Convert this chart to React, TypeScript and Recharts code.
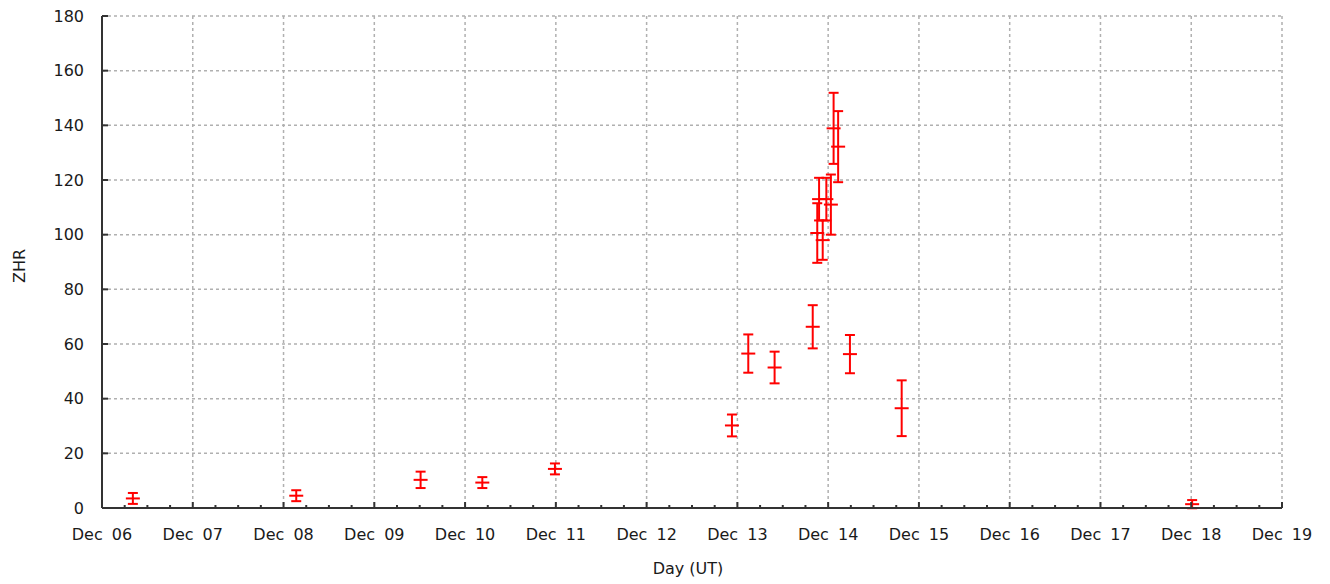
import React from "react";
import {
  ScatterChart,
  Scatter,
  XAxis,
  YAxis,
  CartesianGrid,
  ErrorBar,
} from "recharts";

// observation time as day of December (UT), ZHR and its error
const obsDay = [6.34, 8.14, 9.51, 10.19, 10.99, 12.94, 13.12, 13.41, 13.83, 13.88, 13.9, 13.94, 13.98, 14.03, 14.06, 14.11, 14.24, 14.81, 18.01];
const obsZhr = [3.5, 4.5, 10.3, 9.3, 14.3, 30.2, 56.5, 51.4, 66.3, 100.6, 113, 98, 113, 111, 138.9, 132.2, 56.3, 36.5, 1.4];
const obsErr = [2, 2, 3, 2, 2, 4, 7, 5.8, 7.9, 10.9, 7.8, 7.2, 7.8, 11, 13, 13, 7, 10.2, 1.5];

const dayTicks = [6, 7, 8, 9, 10, 11, 12, 13, 14, 15, 16, 17, 18, 19];
const dayLabels = ["Dec 06", "Dec 07", "Dec 08", "Dec 09", "Dec 10", "Dec 11", "Dec 12", "Dec 13", "Dec 14", "Dec 15", "Dec 16", "Dec 17", "Dec 18", "Dec 19"];
const zhrTicks = [0, 20, 40, 60, 80, 100, 120, 140, 160, 180];

const data = obsDay.map((d, i) => ({ day: d, zhr: obsZhr[i], err: obsErr[i] }));

// quarter-day minor ticks between the labelled days
const minorTicks: number[] = [];
dayTicks.slice(0, -1).forEach((d) => {
  [0, 0.25, 0.5, 0.75].forEach((q) => minorTicks.push(d + q));
});
minorTicks.push(19);

const FONT = "'DejaVu Sans', Verdana, sans-serif";
const INK = "#1a1a1a";
const FRAME = "#333";
const RED = "#ff0000";

const isMajor = (v: number) => Math.abs(v - Math.round(v)) < 1e-6;

const BottomTick = (props: any) => {
  const { x, y, payload } = props;
  const major = isMajor(payload.value);
  const idx = dayTicks.indexOf(Math.round(payload.value));
  return (
    <g>
      <line x1={x} x2={x} y1={y} y2={y - (major ? 6 : 3)} stroke={FRAME} strokeWidth={2} />
      {major && (
        <text x={x} y={y + 32} textAnchor="middle" fontFamily={FONT} fontSize={16} wordSpacing={4} fill={INK}>
          {dayLabels[idx]}
        </text>
      )}
    </g>
  );
};

const TopTick = (props: any) => {
  const { x, y, payload } = props;
  const major = isMajor(payload.value);
  return <line x1={x} x2={x} y1={y} y2={y + (major ? 6 : 3)} stroke={FRAME} strokeWidth={2} />;
};

const LeftTick = (props: any) => {
  const { x, y, payload } = props;
  return (
    <g>
      <line x1={x} x2={x + 6} y1={y} y2={y} stroke={FRAME} strokeWidth={2} />
      <text x={x - 18} y={y} dy="0.36em" textAnchor="end" fontFamily={FONT} fontSize={16} fill={INK}>
        {payload.value}
      </text>
    </g>
  );
};

const RightTick = (props: any) => {
  const { x, y } = props;
  return <line x1={x} x2={x - 6} y1={y} y2={y} stroke={FRAME} strokeWidth={2} />;
};

const Cross = (props: any) => {
  const { cx, cy } = props;
  if (cx == null || cy == null) return null;
  return <line x1={cx - 7} x2={cx + 7} y1={cy} y2={cy} stroke={RED} strokeWidth={2} />;
};

export default function App() {
  return (
    <div style={{ width: 1330, height: 584, background: "#fff" }}>
      <style>{"body{margin:0;background:#fff}"}</style>
      <ScatterChart
        width={1330}
        height={584}
        margin={{ top: 16, right: 48, bottom: 0, left: 0 }}
      >
        <CartesianGrid
          stroke="#b0b0b0"
          strokeWidth={1.5}
          strokeDasharray="3 3"
          horizontalValues={zhrTicks}
          verticalValues={dayTicks}
        />
        <XAxis
          dataKey="day"
          type="number"
          domain={[6, 19]}
          ticks={minorTicks}
          interval={0}
          allowDataOverflow
          height={76}
          tickSize={0}
          tickMargin={0}
          tickLine={false}
          tick={BottomTick}
          axisLine={{ stroke: FRAME, strokeWidth: 2 }}
          label={({ viewBox }: any) => (
            <text
              x={viewBox.x + viewBox.width / 2 - 4}
              y={viewBox.y + 66}
              textAnchor="middle"
              fontFamily={FONT}
              fontSize={16}
              fill={INK}
            >
              Day (UT)
            </text>
          )}
        />
        <XAxis
          xAxisId="top"
          orientation="top"
          type="number"
          domain={[6, 19]}
          ticks={minorTicks}
          interval={0}
          allowDataOverflow
          height={0}
          tickSize={0}
          tickMargin={0}
          tickLine={false}
          tick={TopTick}
          axisLine={{ stroke: FRAME, strokeWidth: 2 }}
        />
        <YAxis
          dataKey="zhr"
          type="number"
          domain={[0, 180]}
          ticks={zhrTicks}
          interval={0}
          allowDataOverflow
          width={102}
          tickSize={0}
          tickMargin={0}
          tickLine={false}
          tick={LeftTick}
          axisLine={{ stroke: FRAME, strokeWidth: 2 }}
          label={({ viewBox }: any) => {
            const cx = 19.5;
            const cy = viewBox.y + viewBox.height / 2 + 4;
            return (
              <text
                x={cx}
                y={cy}
                transform={`rotate(-90, ${cx}, ${cy})`}
                textAnchor="middle"
                dominantBaseline="central"
                fontFamily={FONT}
                fontSize={16}
                fill={INK}
              >
                ZHR
              </text>
            );
          }}
        />
        <YAxis
          yAxisId="right"
          orientation="right"
          type="number"
          domain={[0, 180]}
          ticks={zhrTicks}
          interval={0}
          allowDataOverflow
          width={0}
          tickSize={0}
          tickMargin={0}
          tickLine={false}
          tick={RightTick}
          axisLine={{ stroke: FRAME, strokeWidth: 2 }}
        />
        <Scatter data={data} shape={Cross} isAnimationActive={false}>
          <ErrorBar dataKey="err" direction="y" width={5} stroke={RED} strokeWidth={2} />
        </Scatter>
      </ScatterChart>
    </div>
  );
}
